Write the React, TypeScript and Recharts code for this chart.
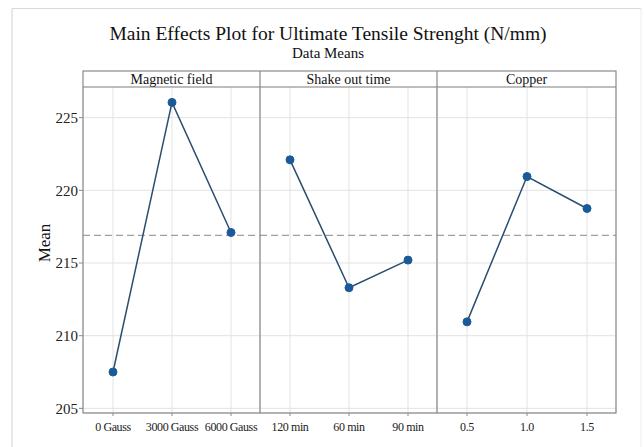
import React from 'react';
import { LineChart, Line, XAxis, YAxis, CartesianGrid, ReferenceLine } from 'recharts';

const MAGNETIC_LEVELS = ['0 Gauss', '3000 Gauss', '6000 Gauss'];
const MAGNETIC_MEANS = [207.5, 226.05, 217.1];
const SHAKE_LEVELS = ['120 min', '60 min', '90 min'];
const SHAKE_MEANS = [222.1, 213.3, 215.2];
const COPPER_LEVELS = ['0.5', '1.0', '1.5'];
const COPPER_MEANS = [210.95, 220.95, 218.75];
const Y_TICKS = [205, 210, 215, 220, 225];
const Y_DOMAIN: [number, number] = [204.68, 227.11];
const GRAND_MEAN = 216.9;

const TITLE = 'Main Effects Plot for Ultimate Tensile Strenght (N/mm)';
const SUBTITLE = 'Data Means';
const PANEL_TITLES = ['Magnetic field', 'Shake out time', 'Copper'];

const W = 644;
const H = 447;
const FONT = '"Liberation Serif", "Times New Roman", serif';
const LINE_COLOR = '#2b4d70';
const DOT_COLOR = '#1b5a99';
const GRID = '#e3e3e3';
const BORDER = '#8a8a8a';

// panel layout (pixels)
const PLOT_TOP = 87;
const PLOT_BOTTOM = 413;
const HEADER_TOP = 71;
const PANEL_EDGES = [83, 260, 437, 616];

const build = (levels: string[], means: number[]) =>
  levels.map((level, i) => ({ level, mean: means[i] }));

const panels = [
  build(MAGNETIC_LEVELS, MAGNETIC_MEANS),
  build(SHAKE_LEVELS, SHAKE_MEANS),
  build(COPPER_LEVELS, COPPER_MEANS),
];

const Y_AXIS_W = 40;

function Panel({ data, index }: { data: { level: string; mean: number }[]; index: number }) {
  const left = PANEL_EDGES[index];
  const right = PANEL_EDGES[index + 1];
  const showY = index === 0;
  return (
    <div style={{ position: 'absolute', left: 0, top: 0 }}>
      <LineChart
        width={W}
        height={H}
        data={data}
        margin={{
          top: PLOT_TOP,
          bottom: H - PLOT_BOTTOM - 30,
          left: showY ? left - Y_AXIS_W : left,
          right: W - right,
        }}
      >
        <CartesianGrid stroke={GRID} strokeWidth={1} />
        <XAxis
          dataKey="level"
          type="category"
          height={30}
          padding={{ left: 30, right: 29 }}
          axisLine={false}
          tickLine={{ stroke: BORDER }}
          tickSize={3}
          tickMargin={6}
          interval={0}
          tick={{ fontFamily: FONT, fontSize: 12, fill: '#222', letterSpacing: -0.4 }}
        />
        <YAxis
          type="number"
          domain={Y_DOMAIN}
          ticks={Y_TICKS}
          allowDataOverflow
          hide={!showY}
          width={Y_AXIS_W}
          axisLine={false}
          tickLine={{ stroke: BORDER }}
          tickSize={4}
          tickMargin={1}
          tick={{ fontFamily: FONT, fontSize: 15, fill: '#222' }}
        />
        <ReferenceLine y={GRAND_MEAN} stroke="#a0a0a0" strokeWidth={1.2} strokeDasharray="7 4" />
        <Line
          type="linear"
          dataKey="mean"
          stroke={LINE_COLOR}
          strokeWidth={1.5}
          dot={{ r: 4, fill: DOT_COLOR, stroke: DOT_COLOR, strokeWidth: 1 }}
          isAnimationActive={false}
        />
      </LineChart>
    </div>
  );
}

export default function App() {
  const x0 = PANEL_EDGES[0];
  const x3 = PANEL_EDGES[3];
  return (
    <div style={{ position: 'absolute', left: 0, top: 0, width: W, height: H, background: '#fff', overflow: 'hidden' }}>
      {panels.map((d, i) => (
        <Panel key={i} data={d} index={i} />
      ))}
      <svg width={W} height={H} style={{ position: 'absolute', left: 0, top: 0, pointerEvents: 'none' }}>
        {/* outer faint frame */}
        <line x1={12} y1={8.5} x2={641} y2={8.5} stroke="#d9d9d9" strokeWidth={1.2} />
        <line x1={12} y1={8.5} x2={12} y2={H} stroke="#d9d9d9" strokeWidth={1.2} />
        <line x1={641} y1={8.5} x2={641} y2={H} stroke="#ececec" strokeWidth={1} />
        {/* panel borders */}
        <rect x={x0} y={HEADER_TOP} width={x3 - x0} height={PLOT_BOTTOM - HEADER_TOP} fill="none" stroke={BORDER} strokeWidth={1.2} />
        <line x1={x0} y1={PLOT_TOP} x2={x3} y2={PLOT_TOP} stroke={BORDER} strokeWidth={1.2} />
        {PANEL_EDGES.slice(1, 3).map((x) => (
          <line key={x} x1={x} y1={HEADER_TOP} x2={x} y2={PLOT_BOTTOM} stroke={BORDER} strokeWidth={1.2} />
        ))}
        {PANEL_TITLES.map((t, i) => (
          <text
            key={t}
            x={(PANEL_EDGES[i] + PANEL_EDGES[i + 1]) / 2}
            y={84}
            textAnchor="middle"
            fontFamily={FONT}
            fontSize={14}
            fill="#111"
          >
            {t}
          </text>
        ))}
        <text x={328} y={40} textAnchor="middle" fontFamily={FONT} fontSize={19.5} fill="#111">
          {TITLE}
        </text>
        <text x={328} y={58} textAnchor="middle" fontFamily={FONT} fontSize={15} fill="#111">
          {SUBTITLE}
        </text>
        <text
          x={44}
          y={243}
          textAnchor="middle"
          dominantBaseline="central"
          transform="rotate(-90 44 243)"
          fontFamily={FONT}
          fontSize={17}
          fill="#111"
        >
          Mean
        </text>
      </svg>
    </div>
  );
}
